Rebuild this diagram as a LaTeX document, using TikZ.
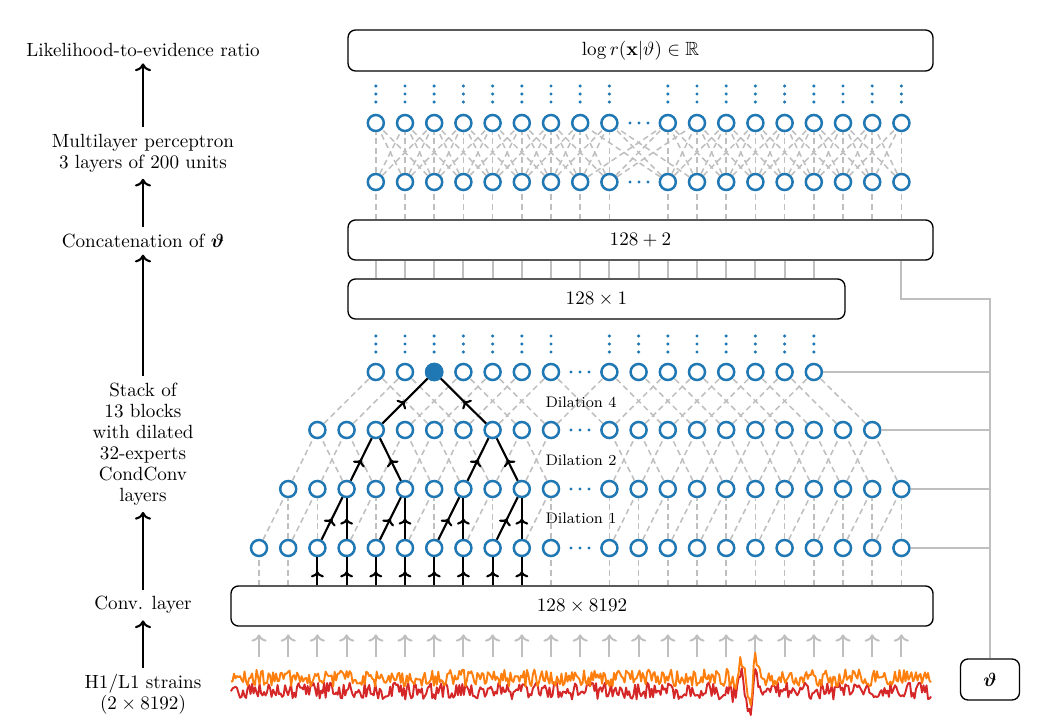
\documentclass[tikz,border=0pt]{standalone}
\usepackage{amsmath,amssymb}
\usepackage{tikz}
\usetikzlibrary{calc,arrows.meta,decorations.markings}
\definecolor{tabblue}{RGB}{31,119,180}
\definecolor{taborange}{RGB}{255,127,14}
\definecolor{tabred}{RGB}{214,39,40}
\tikzstyle{neuron} = [circle, draw=tabblue, fill=white, line width=1.3pt, inner sep=0pt, minimum size=8.4pt]
\tikzstyle{block} = [rectangle, draw, rounded corners=4pt, line width=0.7pt, text centered, minimum height=21pt]
\tikzstyle{link} = [draw=black!25, line width=0.8pt, dash pattern=on 3pt off 2pt]
\tikzstyle{trace} = [draw=black, line width=1.1pt, postaction={decorate}, decoration={markings, mark=at position 0.5 with {\arrow{To[scale=0.8]}}}]
\tikzstyle{cond} = [draw=black!25, line width=1pt]
\tikzstyle{feed} = [cond, ->, shorten >=4pt]
\tikzstyle{flow} = [draw, line width=1.1pt, ->]
\tikzstyle{caption} = [align=center, font=\fontsize{10}{11}\selectfont]

\begin{document}
\begin{tikzpicture}[x=0.5236pt, y=-0.5236pt]
    \useasboundingbox (0,0) rectangle (1045,718);
    % columns
    \foreach \j in {0,...,22}
        \coordinate (col-\j) at ({259+29.2*\j},0);
    % boxes
    \node[block, minimum width=306.3pt, minimum height=21.5pt] (ratio) at (640.5,50.5) {$\log r(\mathbf{x}|\vartheta)\in\mathbb{R}$};
    \node[block, minimum width=306.3pt] (concat) at (640.5,240) {$128+2$};
    \node[block, minimum width=260.2pt] (feat) at (596.5,299) {$128\times 1$};
    \node[block, minimum width=367.6pt] (conv) at (582,606) {$128\times 8192$};
    \node[block, minimum width=30.9pt, minimum height=21.5pt] (theta) at (990,679.5) {$\boldsymbol{\vartheta}$};
    % dilated conv layers
    \foreach \l/\y/\s/\e in {0/548/0/22, 1/489/1/22, 2/430/2/21, 3/372/4/19} {
        \foreach \j in {\s,...,\e} {
            \ifnum\j=11 \else
                \node[neuron] (c-\l-\j) at ({259+29.2*\j},\y) {};
            \fi
        }
        \foreach \d in {-9,0,9}
            \fill[tabblue] ({580+\d},\y) circle (0.9pt);
    }
    \node[neuron, fill=tabblue] (c-hot) at (c-3-6) {};
    \foreach \j in {4,...,19} {
        \ifnum\j=11 \else
            \foreach \d in {20,28,36}
                \fill[tabblue] ($(c-3-\j)+(0,-\d)$) circle (0.9pt);
        \fi
    }
    \node[font=\footnotesize] (dil-4) at (581,402) {Dilation 4};
    \node[font=\footnotesize] (dil-2) at (581,460) {Dilation 2};
    \node[font=\footnotesize] (dil-1) at (581,518.5) {Dilation 1};
    % dashed taps
    \foreach \l/\a/\b/\s/\e in {1/-1/0/1/22, 2/-1/1/2/21, 3/-2/2/4/19} {
        \foreach \j in {\s,...,\e} {
            \ifnum\j=11 \else
                \pgfmathtruncatemacro\p{\l-1}
                \foreach \o in {\a,\b} {
                    \pgfmathtruncatemacro\k{\j+\o}
                    \ifnum\k=11 \else
                        \draw[link] (c-\p-\k) -- (c-\l-\j);
                    \fi
                }
            \fi
        }
    }
    % input taps, receptive field in black
    \foreach \j in {0,...,22} {
        \ifnum\j=11 \else
            \ifnum\j>1 \ifnum\j<10
                \draw[trace] (conv.north -| c-0-\j) -- (c-0-\j);
            \else
                \draw[link] (conv.north -| c-0-\j) -- (c-0-\j);
            \fi \else
                \draw[link] (conv.north -| c-0-\j) -- (c-0-\j);
            \fi
        \fi
    }
    \foreach \a/\b in {0-2/1-3, 0-3/1-3, 0-4/1-5, 0-5/1-5, 0-6/1-7, 0-7/1-7, 0-8/1-9, 0-9/1-9,
                       1-3/2-4, 1-5/2-4, 1-7/2-8, 1-9/2-8, 2-4/hot, 2-8/hot}
        \draw[trace] (c-\a) -- (c-\b);
    % multilayer perceptron
    \foreach \k in {0,...,17} {
        \pgfmathsetmacro\x{259+29.2*ifthenelse(\k<9,\k+4,\k+5)}
        \node[neuron] (m-b-\k) at (\x,182) {};
        \node[neuron] (m-t-\k) at (\x,123) {};
        \foreach \d in {21,29,37}
            \fill[tabblue] ($(m-t-\k)+(0,-\d)$) circle (0.9pt);
        \draw[link] (concat.north -| m-b-\k) -- (m-b-\k);
    }
    \foreach \y in {182,123}
        \foreach \d in {-9,0,9}
            \fill[tabblue] ({639+\d},\y) circle (0.9pt);
    \foreach \k in {0,...,17} {
        \foreach \o in {-2,...,2} {
            \pgfmathtruncatemacro\q{\k+\o}
            \ifnum\q<0 \else \ifnum\q>17 \else
                \draw[link] (m-b-\q) -- (m-t-\k);
            \fi\fi
        }
    }
    % features and conditioning
    \foreach \j in {4,...,19}
        \draw[cond] (feat.north -| col-\j) -- (concat.south -| col-\j);
    \coordinate (tap) at (990,299);
    \draw[cond] (concat.south -| m-b-17) |- (tap) -- (theta.north);
    \foreach \n in {3-19, 2-21, 1-22, 0-22}
        \draw[cond] (c-\n) -- (c-\n -| tap);
    % strains
    \coordinate (sig) at (0,657);
    \foreach \j in {0,...,22}
        \draw[feed] (col-\j |- sig) -- (col-\j |- conv.south);
    \pgfmathsetseed{11}
    \draw[tabred, line width=1pt, line join=round] plot[domain=231:931, samples=467]
        (\x,{691+8.5*rand+22*cos(22.5*(\x-749))/(1+min(((\x-749)/10)^2,100)^2)});
    \draw[taborange, line width=1pt, line join=round] plot[domain=231:931, samples=467]
        (\x,{678+8.5*rand+26*cos(22.5*(\x-749))/(1+min(((\x-749)/10)^2,100)^2)});
    % left labels
    \node[caption] (l-ratio) at (143,50) {Likelihood-to-evidence ratio};
    \node[caption] (l-mlp) at (143,153) {Multilayer perceptron\\3 layers of 200 units};
    \node[caption] (l-concat) at (143,241) {Concatenation of $\boldsymbol{\vartheta}$};
    \node[caption] (l-stack) at (143,444) {Stack of\\13 blocks\\with dilated\\32-experts\\CondConv\\layers};
    \node[caption] (l-conv) at (143,605) {Conv. layer};
    \node[caption] (l-strain) at (143,694.5) {H1/L1 strains\\($2\times 8192$)};
    \draw[flow] (l-strain) -- (l-conv);
    \draw[flow] (l-conv) -- (l-stack);
    \draw[flow] (l-stack) -- (l-concat);
    \draw[flow] (l-concat) -- (l-mlp);
    \draw[flow] (l-mlp) -- (l-ratio);
\end{tikzpicture}
\end{document}
